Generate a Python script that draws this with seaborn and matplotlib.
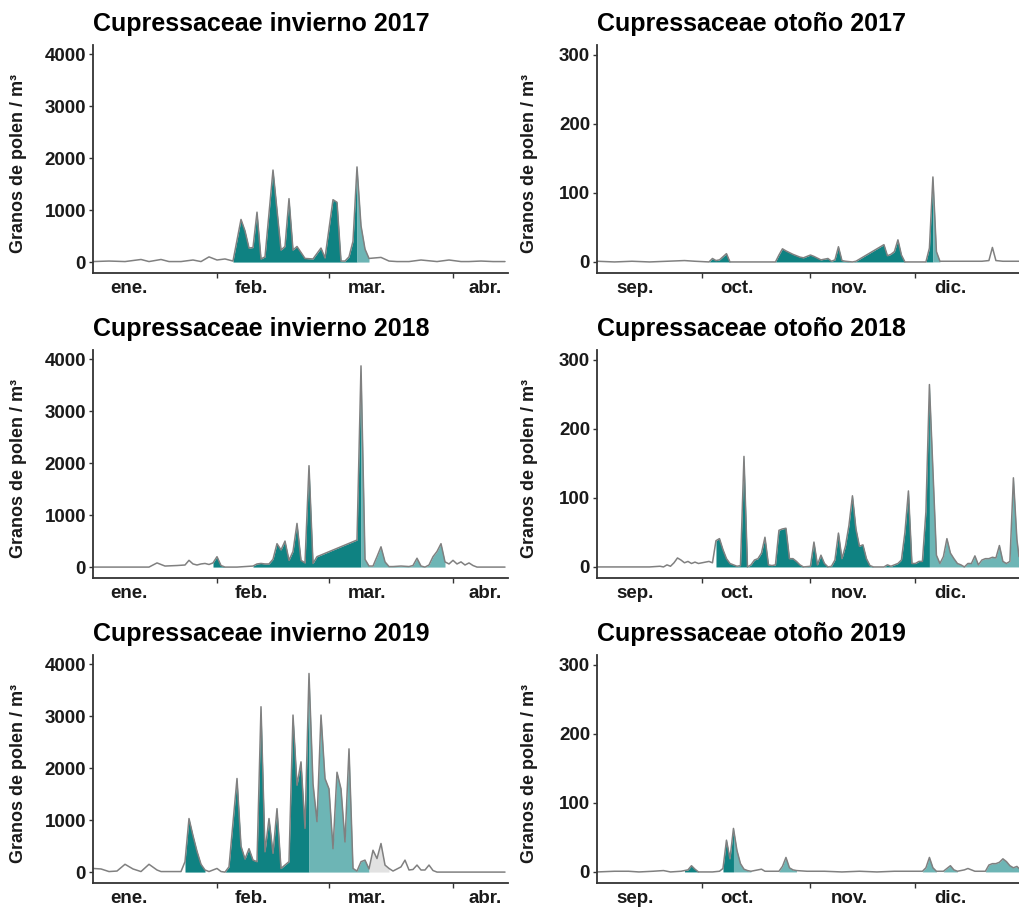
import numpy as np
import pandas as pd
import seaborn as sns
import matplotlib.pyplot as plt

# colours of the season phases
DARK = "#0f8282"
LIGHT = "#6db5b5"
GREY_FILL = "#e2e2e2"
LINE = "#808080"
FILLS = {"pre": DARK, "post": LIGHT, "out": GREY_FILL}

# day = days since 1 Jan (invierno) or 1 Sep (otono)
inv17_day = [0, 4, 8, 12, 14, 17, 19, 22, 25, 27, 29, 31, 33, 35, 37, 38, 39, 40, 41, 42,
             43, 45, 47, 48, 49, 50, 51, 53, 55, 57, 58, 60, 61, 62, 63, 64, 65, 66, 67, 68,
             69, 72, 74, 76, 79, 82, 86, 89, 92, 94, 97, 100, 103]
inv17_val = [10, 20, 10, 50, 10, 50, 10, 10, 40, 10, 100, 40, 60, 20, 820, 600, 270, 280, 960, 60,
             100, 1770, 230, 300, 1220, 230, 300, 70, 60, 270, 80, 1200, 1150, 20, 20, 100, 400, 1830, 700, 250,
             70, 90, 20, 10, 10, 40, 10, 40, 10, 10, 20, 10, 10]
inv17_start = [35, 66]
inv17_end = [66, 69]
inv17_kind = ["pre", "post"]

inv18_day = [0, 5, 10, 14, 16, 18, 21, 23, 24, 25, 26, 27, 28, 29, 30, 31, 32, 33, 36, 40,
             41, 42, 43, 44, 45, 46, 47, 48, 49, 50, 51, 52, 53, 54, 55, 56, 66, 67, 68, 69,
             70, 71, 72, 73, 74, 75, 77, 79, 80, 81, 82, 83, 84, 85, 86, 87, 88, 89, 90, 91,
             92, 93, 94, 95, 96, 100, 103]
inv18_val = [0, 0, 0, 0, 80, 20, 30, 40, 130, 60, 40, 60, 70, 50, 80, 200, 30, 0, 0, 20,
             60, 70, 60, 60, 150, 450, 330, 500, 130, 300, 840, 130, 80, 1950, 70, 200, 520, 3870, 150, 20,
             20, 200, 390, 100, 10, 10, 20, 10, 30, 170, 20, 0, 40, 200, 300, 450, 100, 60, 130, 60,
             100, 40, 80, 30, 0, 0, 0]
inv18_start = [30, 40, 67]
inv18_end = [33, 67, 88]
inv18_kind = ["pre", "pre", "post"]

inv19_day = [0, 2, 4, 6, 8, 10, 12, 14, 16, 17, 22, 23, 24, 25, 26, 27, 28, 29, 31, 32,
             33, 34, 36, 37, 38, 39, 40, 41, 42, 43, 44, 45, 46, 47, 48, 49, 50, 51, 52, 53,
             54, 55, 56, 57, 58, 59, 60, 61, 62, 63, 64, 65, 66, 67, 68, 69, 70, 71, 72, 73,
             74, 75, 77, 78, 79, 80, 81, 82, 83, 84, 85, 86, 95, 103]
inv19_val = [70, 60, 10, 20, 150, 60, 10, 150, 40, 10, 10, 200, 1030, 700, 400, 150, 40, 10, 70, 10,
             0, 100, 1800, 500, 250, 450, 230, 200, 3180, 390, 1030, 360, 1220, 70, 135, 200, 3020, 1670, 2120, 840,
             3820, 1700, 970, 3020, 1800, 1600, 450, 1920, 1600, 580, 2370, 70, 20, 200, 230, 60, 420, 260, 550, 135,
             70, 20, 100, 230, 40, 50, 135, 40, 40, 135, 30, 0, 0, 0]
inv19_start = [23, 33, 54, 69]
inv19_end = [28, 54, 69, 74]
inv19_kind = ["pre", "pre", "post", "out"]

oto17_day = [0, 5, 10, 15, 20, 25, 28, 32, 33, 34, 35, 37, 38, 45, 51, 52, 53, 54, 56, 57,
             58, 59, 61, 62, 64, 65, 66, 67, 68, 69, 70, 71, 73, 74, 82, 83, 84, 85, 86, 87,
             88, 94, 95, 96, 97, 98, 100, 105, 110, 112, 113, 114, 116, 120.6]
oto17_val = [1, 0, 1, 0, 1, 2, 1, 0, 5, 2, 3, 12, 0, 0, 0, 10, 19, 16, 11, 9,
             7, 6, 10, 8, 3, 4, 5, 1, 3, 22, 2, 1, 0, 1, 25, 9, 11, 15, 32, 10,
             0, 0, 20, 123, 15, 1, 1, 1, 1, 2, 21, 2, 1, 1]
oto17_start = [32, 96]
oto17_end = [96, 98]
oto17_kind = ["pre", "post"]

oto18_day = [0, 5, 10, 15, 18, 19, 20, 21, 22, 23, 24, 25, 26, 27, 28, 29, 30, 31, 32, 33,
             34, 35, 36, 37, 38, 39, 40, 41, 42, 43, 44, 45, 46, 47, 48, 49, 50, 51, 52, 53,
             54, 55, 56, 57, 58, 59, 61, 62, 63, 64, 65, 66, 67, 68, 69, 70, 71, 72, 73, 74,
             75, 76, 77, 78, 79, 82, 83, 84, 86, 87, 88, 89, 90, 91, 92, 93, 94, 95, 96, 97,
             98, 99, 100, 101, 102, 103, 104, 105, 106, 107, 108, 109, 110, 111, 112, 113, 114, 115, 116, 117,
             118, 119, 120, 120.6]
oto18_val = [0, 0, 0, 0, 1, 0, 3, 1, 6, 13, 10, 6, 8, 5, 7, 5, 6, 7, 8, 6,
             38, 41, 25, 12, 5, 3, 1, 2, 160, 0, 3, 10, 12, 20, 43, 3, 2, 3, 53, 55,
             56, 12, 12, 8, 3, 0, 1, 36, 3, 17, 5, 0, 1, 10, 49, 12, 30, 60, 103, 55,
             30, 32, 12, 2, 0, 0, 3, 1, 5, 10, 50, 110, 5, 5, 8, 8, 80, 264, 140, 17,
             5, 15, 41, 20, 12, 5, 3, 0, 5, 5, 16, 3, 10, 12, 12, 14, 13, 31, 8, 5,
             8, 129, 40, 15]
oto18_start = [34, 95]
oto18_end = [95, 120.6]
oto18_kind = ["pre", "post"]

oto19_day = [0, 5, 9, 12, 16, 19, 21, 24, 25, 26, 27, 28, 29, 33, 35, 36, 37, 38, 39, 40,
             41, 42, 43, 44, 46, 47, 48, 52, 53, 54, 55, 56, 57, 60, 65, 70, 75, 80, 85, 90,
             93, 94, 95, 96, 97, 99, 100, 101, 102, 103, 105, 106, 107, 108, 111, 112, 113, 114, 115, 116,
             117, 118, 119, 120, 120.6]
oto19_val = [0, 1, 1, 0, 1, 2, 0, 1, 2, 3, 9, 4, 0, 0, 1, 5, 46, 19, 63, 31,
             12, 4, 2, 1, 3, 4, 1, 1, 8, 21, 6, 3, 2, 1, 1, 0, 1, 0, 1, 1,
             1, 6, 21, 6, 1, 1, 5, 9, 3, 1, 3, 5, 3, 1, 1, 10, 12, 12, 14, 19,
             15, 9, 6, 8, 5]
oto19_start = [25, 36, 39, 52, 93, 99, 111]
oto19_end = [29, 39, 44, 57, 97, 103, 120.6]
oto19_kind = ["pre", "pre", "post", "post", "post", "post", "post"]

# month axes (tick marks at month starts, names a bit later)
inv_month_start = [31, 59, 90]
inv_label_pos = [9, 39.5, 68.5, 98]
inv_labels = ["ene.", "feb.", "mar.", "abr."]
oto_month_start = [30, 61, 91]
oto_label_pos = [11, 40, 72, 101]
oto_labels = ["sep.", "oct.", "nov.", "dic."]

inv_yticks = [0, 1000, 2000, 3000, 4000]
oto_yticks = [0, 100, 200, 300]

sns.set_theme(style="ticks")
plt.rcParams["font.family"] = ["Liberation Sans", "DejaVu Sans"]
plt.rcParams["font.weight"] = "bold"
TXT = "#1a1a1a"
AX = "#333333"


def draw_panel(ax, day, val, starts, ends, kinds, title, ylim, yticks,
               mstart, lpos, labels, xmax, ylab_x):
    df = pd.DataFrame({"day": day, "val": val})
    d = df["day"].to_numpy()
    v = df["val"].to_numpy()
    for s, e, k in zip(starts, ends, kinds):
        m = (d >= s) & (d <= e)
        ax.fill_between(d[m], 0, v[m], color=FILLS[k], linewidth=0, zorder=1)
    sns.lineplot(data=df, x="day", y="val", ax=ax, color=LINE, linewidth=1.1,
                 zorder=2)
    ax.set_xlim(0, xmax)
    ax.set_ylim(*ylim)
    ax.set_yticks(yticks)
    ax.set_yticklabels([str(t) for t in yticks], fontsize=13.5,
                       fontweight="bold", color=TXT)
    ax.set_xticks(mstart)
    ax.set_xticklabels([""] * len(mstart))
    ax.set_xticks(lpos, labels, minor=True, fontsize=13.5, fontweight="bold",
                  color=TXT)
    ax.tick_params(axis="x", which="major", length=3.5, width=1.0, color=AX)
    ax.tick_params(axis="x", which="minor", length=0, pad=5)
    ax.tick_params(axis="y", length=3, width=1.0, color=AX, pad=2)
    for side in ["top", "right"]:
        ax.spines[side].set_visible(False)
    for side in ["left", "bottom"]:
        ax.spines[side].set_color(AX)
        ax.spines[side].set_linewidth(1.3)
    ax.set_xlabel("")
    ax.set_ylabel("Granos de polen / m³", fontsize=13, fontweight="bold",
                  color=TXT)
    ax.yaxis.set_label_coords(ylab_x, 0.48)
    ax.set_title(title, loc="left", fontsize=18, fontweight="bold",
                 color="black", pad=10)


W, H = 1019, 910
fig = plt.figure(figsize=(W / 100, H / 100), dpi=100)

row_top = [45, 350, 655]
row_h = 228
left_x, left_w = 93, 415
right_x, right_w = 597, 422

panels = [
    (inv17_day, inv17_val, inv17_start, inv17_end, inv17_kind, "Cupressaceae invierno 2017"),
    (oto17_day, oto17_val, oto17_start, oto17_end, oto17_kind, "Cupressaceae otoño 2017"),
    (inv18_day, inv18_val, inv18_start, inv18_end, inv18_kind, "Cupressaceae invierno 2018"),
    (oto18_day, oto18_val, oto18_start, oto18_end, oto18_kind, "Cupressaceae otoño 2018"),
    (inv19_day, inv19_val, inv19_start, inv19_end, inv19_kind, "Cupressaceae invierno 2019"),
    (oto19_day, oto19_val, oto19_start, oto19_end, oto19_kind, "Cupressaceae otoño 2019"),
]

for i, (day, val, st, en, kd, title) in enumerate(panels):
    r = i // 2
    top = row_top[r]
    if i % 2 == 0:
        ax = fig.add_axes([left_x / W, (H - top - row_h) / H, left_w / W, row_h / H])
        draw_panel(ax, day, val, st, en, kd, title, (-210, 4175), inv_yticks,
                   inv_month_start, inv_label_pos, inv_labels, 103.75, -0.159)
    else:
        ax = fig.add_axes([right_x / W, (H - top - row_h) / H, right_w / W, row_h / H])
        draw_panel(ax, day, val, st, en, kd, title, (-16, 314), oto_yticks,
                   oto_month_start, oto_label_pos, oto_labels, 120.6, -0.140)

fig.savefig("out.png", dpi=100)
